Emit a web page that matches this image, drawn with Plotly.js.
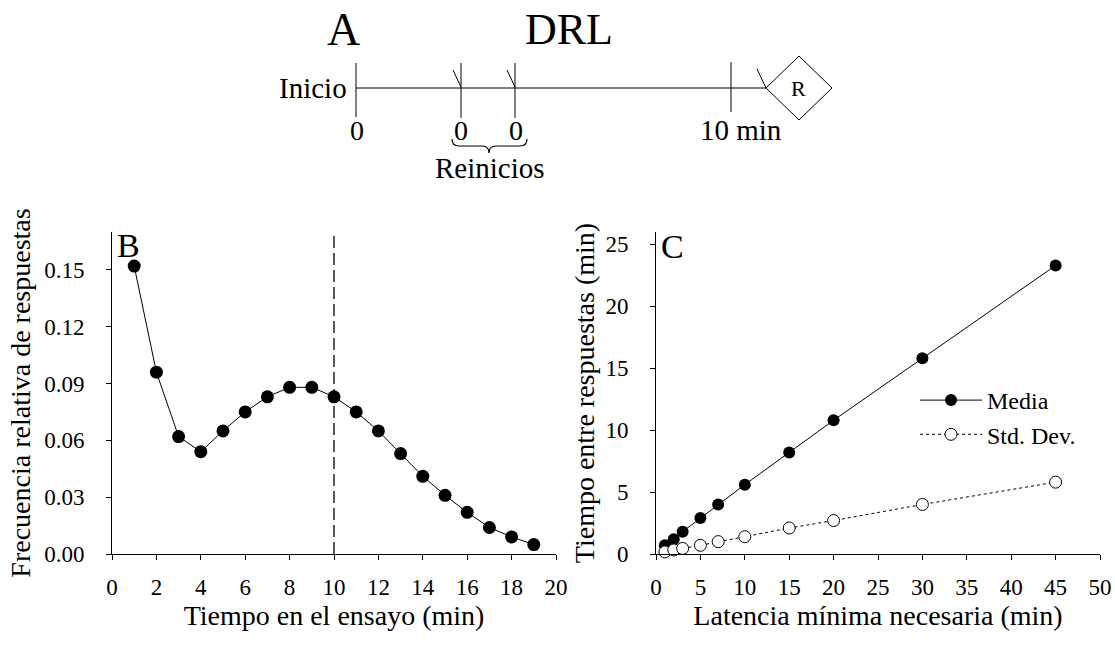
<!DOCTYPE html>
<html>
<head>
<meta charset="utf-8">
<script src="https://cdn.plot.ly/plotly-3.0.1.min.js"></script>
<style>html,body{margin:0;padding:0;background:#fff;}</style>
</head>
<body>
<div id="chart" style="width:1115px;height:645px;"></div>
<script>
// ---- Panel B data ----
const bTime = [1,2,3,4,5,6,7,8,9,10,11,12,13,14,15,16,17,18,19];
const bFreq = [0.152,0.096,0.062,0.054,0.065,0.075,0.083,0.088,0.088,0.083,0.075,0.065,0.053,0.041,0.031,0.022,0.014,0.009,0.005];
const bXTicks = [0,2,4,6,8,10,12,14,16,18,20];
const bYTicks = [0,0.03,0.06,0.09,0.12,0.15];
const bCriterion = 10;

// ---- Panel C data ----
const cLatency = [1,2,3,5,7,10,15,20,30,45];
const cMean = [0.7,1.2,1.8,2.9,4.0,5.6,8.2,10.8,15.8,23.3];
const cSD = [0.17,0.33,0.45,0.7,1.0,1.4,2.1,2.7,4.0,5.8];
const cXTicks = [0,5,10,15,20,25,30,35,40,45,50];
const cYTicks = [0,5,10,15,20,25];

const W = 1115, H = 645;
const FONT = "Liberation Serif, Times New Roman, serif";
const px = x => x / W;
const py = y => 1 - y / H;

const traces = [
  {x: bTime, y: bFreq, xaxis: 'x', yaxis: 'y', mode: 'lines+markers', showlegend: false,
   line: {color: '#000', width: 1}, marker: {color: '#000', size: 13}, cliponaxis: false},
  {x: cLatency, y: cMean, xaxis: 'x2', yaxis: 'y2', mode: 'lines+markers', name: 'Media',
   line: {color: '#000', width: 1}, marker: {color: '#000', size: 12}, cliponaxis: false},
  {x: cLatency, y: cSD, xaxis: 'x2', yaxis: 'y2', mode: 'lines+markers', name: 'Std. Dev.',
   line: {color: '#000', width: 1, dash: 'dot'}, marker: {color: '#fff', size: 12, line: {color: '#000', width: 1}}, cliponaxis: false}
];

function axisBase() {
  return {showline: true, linecolor: '#000', linewidth: 1, ticks: 'outside', ticklen: 5, tickcolor: '#000',
    tickwidth: 1, showgrid: false, zeroline: false, automargin: false, fixedrange: true,
    tickfont: {family: FONT, size: 23, color: '#000'}};
}
function note(text, x, y, size, extra) {
  return Object.assign({text: text, xref: 'paper', yref: 'paper', x: px(x), y: py(y), xanchor: 'center', yanchor: 'middle',
    showarrow: false, font: {family: FONT, size: size, color: '#000'}}, extra || {});
}
const yDom = [py(554), py(232)];
const TITLE = {family: FONT, size: 28, color: '#000'};
const layout = {
  width: W, height: H, margin: {l: 0, r: 0, t: 0, b: 0},
  paper_bgcolor: '#fff', plot_bgcolor: 'rgba(0,0,0,0)',
  font: {family: FONT, color: '#000'},
  xaxis: Object.assign(axisBase(), {domain: [px(112), px(556)], range: [0, 20], tickvals: bXTicks, anchor: 'y',
    ticklabelstandoff: 7,
    title: {text: 'Tiempo en el ensayo (min)', font: TITLE, standoff: 2}}),
  yaxis: Object.assign(axisBase(), {domain: yDom, range: [0, 0.17], tickvals: bYTicks, tickformat: '.2f', anchor: 'x',
    ticklabelstandoff: 17,
    title: {text: 'Frecuencia relativa de respuestas', font: TITLE, standoff: 5}}),
  xaxis2: Object.assign(axisBase(), {domain: [px(656), px(1100)], range: [0, 50], tickvals: cXTicks, anchor: 'y2',
    ticklabelstandoff: 7,
    title: {text: 'Latencia mínima necesaria (min)', font: TITLE, standoff: 2}}),
  yaxis2: Object.assign(axisBase(), {domain: yDom, range: [0, 26], tickvals: cYTicks, anchor: 'x2',
    ticklabelstandoff: 17,
    title: {text: 'Tiempo entre respuestas (min)', font: TITLE, standoff: 2}}),
  showlegend: true,
  legend: {x: px(915), y: py(378), xanchor: 'left', yanchor: 'top', bgcolor: 'rgba(0,0,0,0)',
    font: {family: FONT, size: 24, color: '#000'}, itemwidth: 62, tracegroupgap: 0},
  shapes: [
    // criterion line in panel B
    {type: 'line', xref: 'x', yref: 'y', x0: bCriterion, x1: bCriterion, y0: 0, y1: 0.17,
     line: {color: '#000', width: 1.3, dash: '12px,5px'}},
    // schematic A
    {type: 'line', xref: 'paper', yref: 'paper', x0: px(356), x1: px(766), y0: py(88), y1: py(88), line: {color: '#000', width: 1}},
    {type: 'line', xref: 'paper', yref: 'paper', x0: px(356), x1: px(356), y0: py(63), y1: py(117), line: {color: '#000', width: 1}},
    {type: 'line', xref: 'paper', yref: 'paper', x0: px(461), x1: px(461), y0: py(63), y1: py(118), line: {color: '#000', width: 1}},
    {type: 'line', xref: 'paper', yref: 'paper', x0: px(515), x1: px(515), y0: py(63), y1: py(118), line: {color: '#000', width: 1}},
    {type: 'line', xref: 'paper', yref: 'paper', x0: px(731), x1: px(731), y0: py(62), y1: py(112), line: {color: '#000', width: 1}},
    {type: 'line', xref: 'paper', yref: 'paper', x0: px(453), x1: px(461), y0: py(70), y1: py(87), line: {color: '#000', width: 1}},
    {type: 'line', xref: 'paper', yref: 'paper', x0: px(507), x1: px(515), y0: py(70), y1: py(87), line: {color: '#000', width: 1}},
    {type: 'line', xref: 'paper', yref: 'paper', x0: px(757), x1: px(766), y0: py(69), y1: py(88), line: {color: '#000', width: 1}},
    {type: 'path', xref: 'paper', yref: 'paper',
     path: `M${px(766)},${py(88)} L${px(799)},${py(56)} L${px(832)},${py(88)} L${px(799)},${py(120)} Z`,
     line: {color: '#000', width: 1}},
    {type: 'path', xref: 'paper', yref: 'paper',
     path: `M${px(452)},${py(139)} Q${px(452)},${py(146)} ${px(459)},${py(146)} L${px(482)},${py(146)} Q${px(489)},${py(146)} ${px(489)},${py(153)} Q${px(489)},${py(146)} ${px(496)},${py(146)} L${px(520)},${py(146)} Q${px(527)},${py(146)} ${px(527)},${py(139)}`,
     line: {color: '#000', width: 1.2}}
  ],
  annotations: [
    note('B', 128, 246, 34),
    note('C', 672, 247, 34),
    note('A', 343, 30, 46),
    note('DRL', 569, 30, 44),
    note('Inicio', 349, 88, 29, {xanchor: 'right'}),
    note('0', 357, 130, 28),
    note('0', 461, 130, 28),
    note('0', 516, 130, 28),
    note('10 min', 741, 130, 29),
    note('R', 798, 88, 22),
    note('Reinicios', 490, 168, 29)
  ]
};

Plotly.newPlot('chart', traces, layout, {displayModeBar: false, staticPlot: true});
</script>
</body>
</html>
